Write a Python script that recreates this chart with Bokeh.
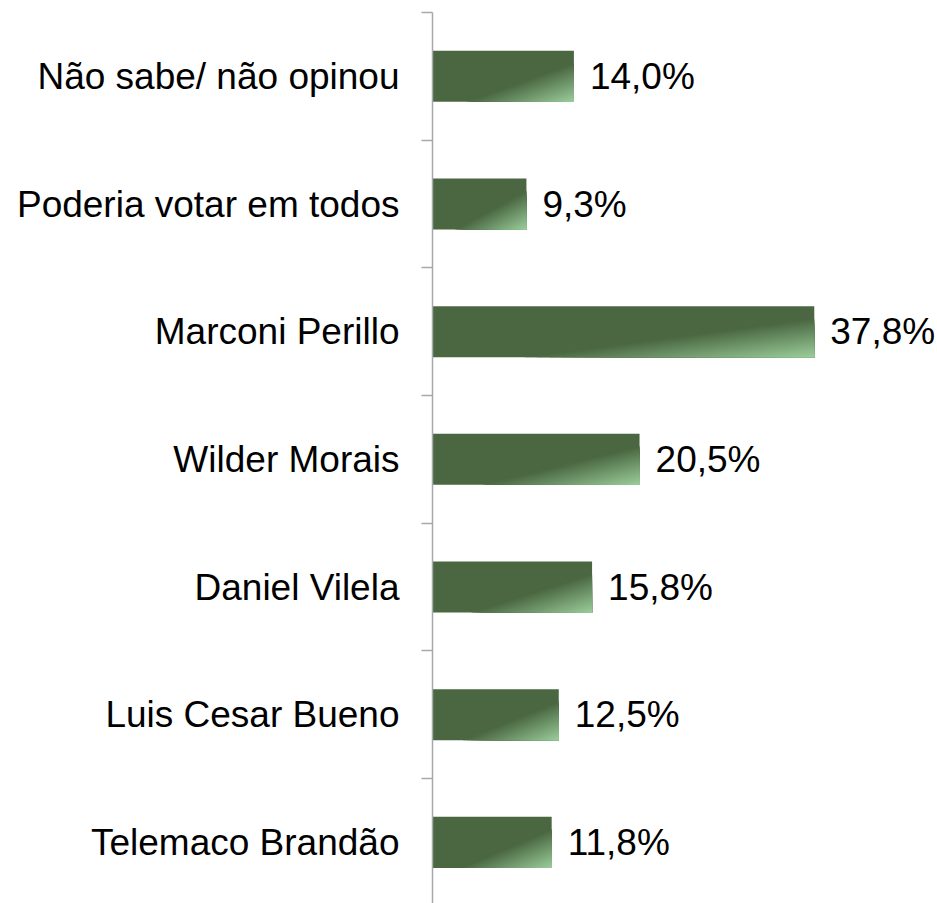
from bokeh.plotting import figure
from bokeh.models import Range1d, FixedTicker, ColumnDataSource
from bokeh.core.properties import value
from bokeh.embed import file_html
from bokeh.resources import INLINE

# Data (top to bottom as shown)
categories = ["Não sabe/ não opinou", "Poderia votar em todos", "Marconi Perillo",
              "Wilder Morais", "Daniel Vilela", "Luis Cesar Bueno", "Telemaco Brandão"]
values = [14.0, 9.3, 37.8, 20.5, 15.8, 12.5, 11.8]
value_labels = ["14,0%", "9,3%", "37,8%", "20,5%", "15,8%", "12,5%", "11,8%"]

n = len(categories)
ypos = [n - 1 - i for i in range(n)]
bar_h = 0.4

DARK = (74, 103, 65)
LIGHT = (155, 205, 155)

p = figure(width=937, height=903, output_backend="svg", toolbar_location=None,
           x_range=Range1d(0, 50), y_range=Range1d(-0.479, n - 0.5),
           x_axis_location=None, min_border_top=12, min_border_bottom=0,
           min_border_right=0, min_border_left=432)
p.outline_line_color = None
p.grid.visible = False
p.background_fill_color = "white"
p.border_fill_color = "white"

# base bars
src = ColumnDataSource(dict(y=ypos, right=values, lab=value_labels))
p.hbar(y="y", left=0, right="right", height=bar_h, source=src,
       fill_color="#%02x%02x%02x" % DARK, line_color=None)

# gradient overlay: nested regions toward bottom-right corner
def clip_halfplane(poly, c):
    # keep points with xn + yn >= c
    out = []
    m = len(poly)
    for k in range(m):
        a = poly[k]; b = poly[(k + 1) % m]
        fa = a[0] + a[1] - c; fb = b[0] + b[1] - c
        if fa >= 0:
            out.append(a)
        if (fa >= 0) != (fb >= 0):
            t = fa / (fa - fb)
            out.append((a[0] + t * (b[0] - a[0]), a[1] + t * (b[1] - a[1])))
    return out

square = [(0, 0), (1, 0), (1, 1), (0, 1)]
nb = 24
s0 = 0.62
xs, ys, cols = [], [], []
for k in range(nb):
    a = s0 + (1 - s0) * k / nb
    mid = s0 + (1 - s0) * (k + 0.5) / nb
    f = (mid - s0) / (1 - s0)
    col = tuple(int(round(DARK[j] + (LIGHT[j] - DARK[j]) * f)) for j in range(3))
    poly = clip_halfplane(square, 2 * a)
    if len(poly) < 3:
        continue
    for v, yc in zip(values, ypos):
        xs.append([pt[0] * v for pt in poly])
        ys.append([yc + bar_h / 2 - pt[1] * bar_h for pt in poly])
        cols.append("#%02x%02x%02x" % col)
p.patches(xs=xs, ys=ys, fill_color=cols, line_color=None)

# value labels
p.text(x="right", y="y", text="lab", source=src, x_offset=16,
       text_baseline="middle", text_align="left",
       text_font=value("Liberation Sans"), text_font_size="37px", text_color="black")

# y axis
ax = p.yaxis[0]
ax.ticker = FixedTicker(ticks=ypos, minor_ticks=[i - 0.5 for i in range(n + 1)])
ax.major_label_overrides = {y: c for y, c in zip(ypos, categories)}
ax.major_label_text_font = "Liberation Sans"
ax.major_label_text_font_size = "37px"
ax.major_label_text_color = "black"
ax.major_label_standoff = 22
ax.major_tick_line_color = None
ax.major_tick_out = 0
ax.major_tick_in = 0
ax.minor_tick_line_color = "#a6a8ab"
ax.minor_tick_line_width = 1.5
ax.minor_tick_out = 11
ax.minor_tick_in = 0
ax.axis_line_color = "#a6a8ab"
ax.axis_line_width = 1.5

open("out.html", "w").write(file_html(p, INLINE))
